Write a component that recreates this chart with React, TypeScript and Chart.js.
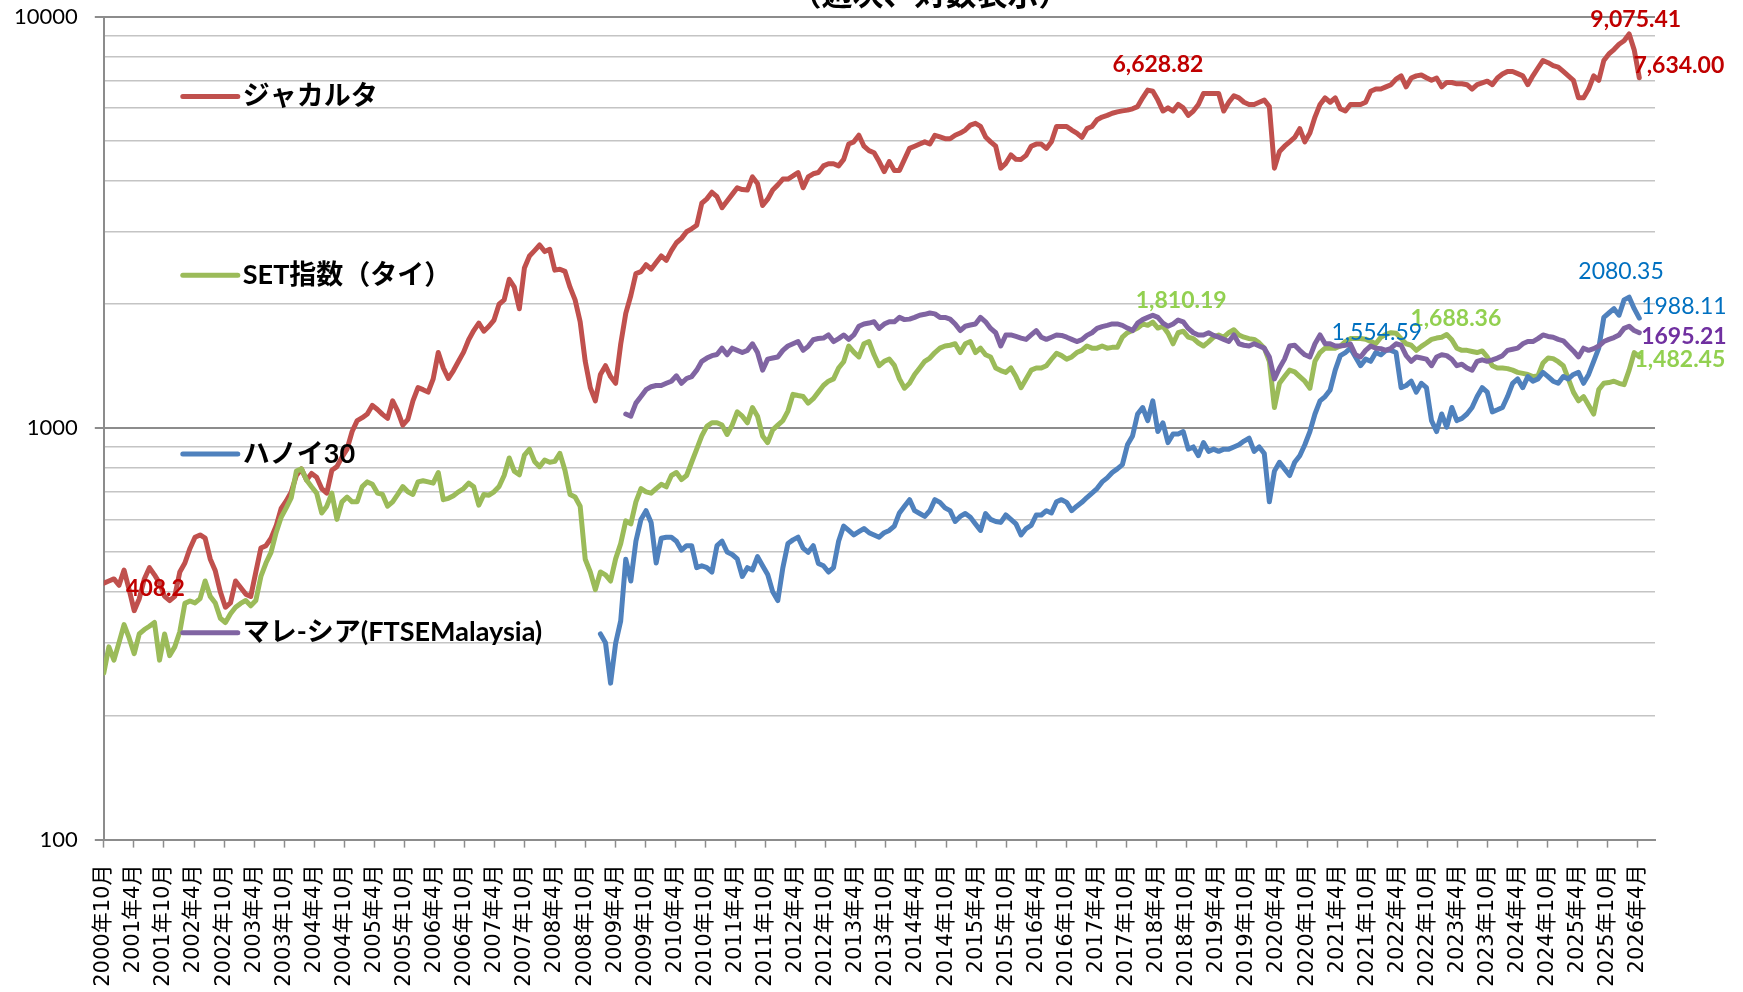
import { useEffect, useRef } from 'react';
import { Chart, registerables } from 'chart.js';

Chart.register(...registerables);

// x tick labels (every 6 months)
const tickLabels = [
  '2000年10月', '2001年4月', '2001年10月', '2002年4月', '2002年10月', '2003年4月', '2003年10月',
  '2004年4月', '2004年10月', '2005年4月', '2005年10月', '2006年4月', '2006年10月', '2007年4月',
  '2007年10月', '2008年4月', '2008年10月', '2009年4月', '2009年10月', '2010年4月', '2010年10月',
  '2011年4月', '2011年10月', '2012年4月', '2012年10月', '2013年4月', '2013年10月', '2014年4月',
  '2014年10月', '2015年4月', '2015年10月', '2016年4月', '2016年10月', '2017年4月', '2017年10月',
  '2018年4月', '2018年10月', '2019年4月', '2019年10月', '2020年4月', '2020年10月', '2021年4月',
  '2021年10月', '2022年4月', '2022年10月', '2023年4月', '2023年10月', '2024年4月', '2024年10月',
  '2025年4月', '2025年10月', '2026年4月',
];

// y ticks
const yGridValues = [100, 200, 300, 400, 500, 600, 700, 800, 900, 1000, 2000, 3000, 4000, 5000, 6000, 7000, 8000, 9000, 10000];
const yLabelValues = [100, 1000, 10000];

// series (roughly monthly samples, sample index 0 = 2000年10月)
const jakarta = [
  420, 425, 430, 415, 452, 405, 360, 385, 430, 458,
  440, 420, 390, 381, 390, 447, 470, 510, 543, 550,
  540, 481, 450, 400, 367, 376, 425, 410, 395, 390,
  447, 511, 518, 540, 578, 638, 665, 700, 767, 796,
  748, 776, 760, 713, 695, 790, 806, 850, 889, 981,
  1043, 1060, 1082, 1136, 1110, 1080, 1056, 1165, 1100, 1017,
  1050, 1165, 1254, 1240, 1223, 1317, 1526, 1400, 1320, 1380,
  1453, 1530, 1640, 1726, 1800, 1720, 1768, 1830, 2000, 2049,
  2300, 2200, 1950, 2450, 2620, 2700, 2786, 2685, 2719, 2420,
  2433, 2404, 2200, 2050, 1813, 1453, 1254, 1165, 1350, 1418,
  1334, 1285, 1600, 1900, 2100, 2374, 2400, 2495, 2433, 2525,
  2620, 2557, 2700, 2821, 2891, 3000, 3050, 3112, 3519, 3606,
  3742, 3650, 3434, 3563, 3698, 3837, 3800, 3790, 4077, 3929,
  3476, 3600, 3790, 3900, 4029, 4029, 4100, 4179, 3837, 4077,
  4150, 4179, 4337, 4390, 4390, 4337, 4498, 4901, 4962, 5148,
  4842, 4725, 4668, 4443, 4200, 4443, 4229, 4229, 4498, 4783,
  4842, 4901, 4962, 4901, 5148, 5100, 5050, 5050, 5148, 5212,
  5300, 5448, 5502, 5408, 5100, 4962, 4842, 4283, 4400, 4611,
  4500, 4498, 4600, 4842, 4900, 4901, 4783, 4962, 5408, 5408,
  5408, 5300, 5212, 5087, 5342, 5408, 5613, 5700, 5753, 5824,
  5867, 5900, 5925, 5969, 6043, 6346, 6629, 6585, 6268, 5896,
  6000, 5896, 6117, 6000, 5753, 5896, 6117, 6503, 6503, 6503,
  6503, 5896, 6192, 6424, 6346, 6192, 6117, 6117, 6192, 6268,
  6043, 4283, 4700, 4842, 4962, 5087, 5342, 4962, 5212, 5700,
  6117, 6346, 6192, 6346, 5969, 5896, 6117, 6117, 6117, 6192,
  6585, 6667, 6667, 6750, 6832, 7050, 7178, 6750, 7090, 7178,
  7213, 7100, 7003, 7090, 6750, 6917, 6917, 6866, 6866, 6832,
  6667, 6832, 6900, 6968, 6832, 7090, 7250, 7356, 7356, 7267,
  7178, 6832, 7178, 7500, 7822, 7726, 7600, 7540, 7356, 7178,
  7003, 6346, 6346, 6667, 7178, 7003, 7822, 8115, 8318, 8568,
  8737, 9075, 8300, 7100,
];

const setThai = [
  254, 294, 273, 301, 333, 309, 283, 316, 324, 330,
  337, 273, 316, 280, 294, 320, 375, 380, 376, 385,
  425, 390, 376, 345, 337, 354, 367, 375, 381, 370,
  381, 436, 470, 499, 557, 607, 640, 678, 786, 796,
  748, 720, 695, 622, 646, 695, 600, 662, 680, 662,
  662, 721, 740, 730, 695, 690, 646, 662, 690, 721,
  700, 690, 740, 745, 740, 735, 780, 670, 675, 685,
  700, 713, 735, 720, 650, 690, 687, 700, 721, 767,
  846, 786, 770, 860, 889, 830, 806, 836, 826, 830,
  868, 790, 690, 680, 646, 480, 447, 405, 447, 440,
  425, 481, 524, 595, 585, 662, 713, 700, 695, 713,
  730, 720, 767, 780, 750, 767, 826, 889, 957, 1010,
  1030, 1030, 1017, 965, 1017, 1095, 1069, 1030, 1122, 1069,
  957, 922, 990, 1017, 1043, 1100, 1208, 1200, 1193, 1150,
  1179, 1223, 1269, 1300, 1317, 1400, 1450, 1583, 1530, 1489,
  1603, 1623, 1507, 1418, 1453, 1471, 1420, 1317, 1250, 1285,
  1350, 1400, 1453, 1480, 1526, 1564, 1583, 1590, 1603, 1526,
  1603, 1623, 1526, 1564, 1507, 1489, 1400, 1380, 1366, 1400,
  1334, 1254, 1317, 1383, 1400, 1400, 1418, 1470, 1520, 1500,
  1471, 1489, 1526, 1545, 1583, 1564, 1564, 1583, 1564, 1571,
  1571, 1663, 1705, 1726, 1750, 1791, 1777, 1810, 1750, 1768,
  1700, 1603, 1705, 1720, 1663, 1650, 1610, 1583, 1620, 1663,
  1684, 1663, 1705, 1734, 1684, 1663, 1650, 1643, 1611, 1564,
  1453, 1122, 1285, 1334, 1383, 1370, 1334, 1300, 1250, 1453,
  1526, 1564, 1564, 1564, 1583, 1623, 1650, 1650, 1651, 1645,
  1625, 1603, 1663, 1690, 1705, 1700, 1650, 1603, 1590, 1545,
  1580, 1610, 1643, 1655, 1663, 1688, 1640, 1564, 1545, 1545,
  1535, 1526, 1540, 1489, 1418, 1400, 1400, 1395, 1383, 1366,
  1358, 1350, 1334, 1340, 1440, 1480, 1475, 1450, 1418, 1317,
  1223, 1165, 1193, 1136, 1082, 1240, 1285, 1290, 1300, 1285,
  1275, 1383, 1526, 1489,
];

const hanoiStart = 98;
const hanoi30 = [
  316, 301,
  240, 300, 340, 480, 425, 531, 600, 630, 590, 470,
  540, 543, 543, 531, 505, 518, 518, 458, 463, 458,
  447, 518, 531, 500, 493, 481, 436, 458, 452, 487,
  463, 441, 400, 381, 458, 524, 535, 543, 511, 499,
  518, 469, 463, 447, 458, 531, 578, 564, 550, 560,
  570, 557, 550, 543, 557, 564, 578, 622, 646, 670,
  630, 620, 610, 630, 670, 660, 640, 630, 593, 610,
  620, 607, 585, 564, 620, 600, 593, 590, 615, 600,
  585, 550, 570, 580, 615, 615, 630, 622, 662, 670,
  660, 630, 646, 660, 678, 695, 713, 740, 757, 780,
  796, 815, 911, 957, 1082, 1122, 1043, 1165, 981, 1030,
  922, 968, 968, 981, 889, 900, 857, 922, 878, 889,
  878, 889, 889, 900, 911, 930, 945, 878, 900, 867,
  662, 786, 826, 796, 767, 826, 857, 911, 981, 1082,
  1165, 1193, 1238, 1383, 1500, 1526, 1564, 1489, 1418, 1471,
  1453, 1526, 1507, 1545, 1545, 1526, 1254, 1269, 1300, 1223,
  1285, 1254, 1043, 981, 1082, 1005, 1122, 1043, 1056, 1082,
  1122, 1193, 1254, 1223, 1095, 1108, 1122, 1193, 1285, 1317,
  1254, 1334, 1300, 1317, 1366, 1334, 1300, 1285, 1334, 1317,
  1350, 1366, 1285, 1350, 1453, 1564, 1858, 1904, 1951, 1881,
  2049, 2080, 1951, 1850,
];

const malaysiaStart = 103;
const malaysia = [
  1082, 1069, 1150, 1193, 1240, 1260, 1269,
  1269, 1285, 1300, 1340, 1285, 1320, 1334, 1383, 1453, 1480,
  1500, 1510, 1564, 1507, 1564, 1545, 1526, 1545, 1603, 1526,
  1383, 1471, 1480, 1489, 1545, 1583, 1603, 1623, 1545, 1580,
  1640, 1651, 1655, 1684, 1623, 1650, 1684, 1643, 1684, 1768,
  1791, 1800, 1813, 1747, 1790, 1813, 1813, 1858, 1835, 1840,
  1858, 1881, 1890, 1904, 1895, 1858, 1858, 1840, 1791, 1726,
  1768, 1780, 1791, 1858, 1813, 1747, 1705, 1583, 1684, 1684,
  1670, 1655, 1643, 1684, 1726, 1663, 1643, 1663, 1684, 1680,
  1663, 1643, 1623, 1640, 1680, 1705, 1747, 1765, 1777, 1791,
  1791, 1777, 1750, 1726, 1800, 1835, 1858, 1881, 1858, 1800,
  1768, 1791, 1830, 1813, 1747, 1705, 1684, 1684, 1705, 1680,
  1663, 1643, 1623, 1684, 1603, 1590, 1583, 1603, 1583, 1564,
  1489, 1317, 1400, 1471, 1583, 1590, 1545, 1507, 1489, 1603,
  1684, 1603, 1603, 1583, 1583, 1590, 1600, 1507, 1489, 1545,
  1583, 1564, 1560, 1545, 1564, 1603, 1590, 1500, 1453, 1489,
  1480, 1471, 1418, 1489, 1507, 1500, 1470, 1418, 1430, 1400,
  1383, 1453, 1465, 1453, 1465, 1480, 1500, 1545, 1555, 1564,
  1603, 1623, 1623, 1650, 1684, 1670, 1663, 1643, 1630, 1583,
  1540, 1489, 1564, 1545, 1560, 1583, 1623, 1643, 1660, 1684,
  1747, 1768, 1726, 1705,
];

const seriesNames = ['ジャカルタ', 'SET指数（タイ）', 'ハノイ30', 'マレ-シア(FTSEMalaysia)'];
const seriesColors = ['#C0504D', '#9BBB59', '#4F81BD', '#8064A2'];

// data labels: text, anchor (sample index, value), color, bold
const dataLabels = [
  { text: '408.2', x: 10.2, y: 408, color: '#C00000', bold: true },
  { text: '6,628.82', x: 208.0, y: 7647, color: '#C00000', bold: true },
  { text: '9,075.41', x: 302.3, y: 9811, color: '#C00000', bold: true },
  { text: '7,634.00', x: 310.8, y: 7586, color: '#C00000', bold: true },
  { text: '2080.35', x: 299.4, y: 2395, color: '#0070C0', bold: false },
  { text: '1988.11', x: 311.8, y: 1970, color: '#0070C0', bold: false },
  { text: '1695.21', x: 311.8, y: 1665, color: '#7030A0', bold: true },
  { text: '1,482.45', x: 311.0, y: 1464, color: '#92D050', bold: true },
  { text: '1,688.36', x: 266.8, y: 1842, color: '#92D050', bold: true },
  { text: '1,554.59', x: 251.2, y: 1703, color: '#0070C0', bold: false },
  { text: '1,810.19', x: 212.6, y: 2037, color: '#92D050', bold: true },
];

const titleText = '（週次、対数表示）';

const LABEL_STEP = 5.936; // samples per 6-month tick
const X_MAX = 306.1;

function toPoints(values: number[], start: number) {
  return values.map((v, i) => ({ x: start + i, y: v }));
}

const labelPlugin = {
  id: 'dataLabelsCustom',
  afterDatasetsDraw(chart: any) {
    const { ctx, scales } = chart;
    ctx.save();
    ctx.textAlign = 'center';
    ctx.textBaseline = 'middle';
    dataLabels.forEach((l) => {
      const px = scales.x.getPixelForValue(l.x);
      const py = scales.y.getPixelForValue(l.y);
      ctx.font = `${l.bold ? 'bold ' : ''}23px Lato, 'Noto Sans CJK JP'`;
      ctx.fillStyle = l.color;
      ctx.fillText(l.text, px, py);
    });
    ctx.restore();
  },
};

const legendPlugin = {
  id: 'legendCustom',
  afterDraw(chart: any) {
    const { ctx, chartArea } = chart;
    ctx.save();
    ctx.font = "bold 27px Lato, 'Noto Sans CJK JP'";
    ctx.textBaseline = 'middle';
    ctx.textAlign = 'left';
    seriesNames.forEach((name, k) => {
      const y = chartArea.top + 80 + k * 178.7;
      const x0 = chartArea.left + 79;
      ctx.strokeStyle = seriesColors[k];
      ctx.lineWidth = 5;
      ctx.lineCap = 'round';
      ctx.beginPath();
      ctx.moveTo(x0, y);
      ctx.lineTo(x0 + 55, y);
      ctx.stroke();
      ctx.fillStyle = '#000';
      ctx.fillText(name, x0 + 60, y);
    });
    // title (mostly above the visible area)
    ctx.font = "bold 31px 'Noto Sans CJK JP'";
    ctx.textAlign = 'center';
    ctx.textBaseline = 'alphabetic';
    ctx.fillText(titleText, 930, 5);
    ctx.restore();
  },
};

export default function App() {
  const canvasRef = useRef<HTMLCanvasElement | null>(null);

  useEffect(() => {
    if (!canvasRef.current) return;
    const allSeries = [
      toPoints(jakarta, 0),
      toPoints(setThai, 0),
      toPoints(hanoi30, hanoiStart),
      toPoints(malaysia, malaysiaStart),
    ];
    const chart = new Chart(canvasRef.current, {
      type: 'line',
      data: {
        datasets: allSeries.map((pts, k) => ({
          label: seriesNames[k],
          data: pts,
          borderColor: seriesColors[k],
          backgroundColor: seriesColors[k],
          borderWidth: 5,
          pointRadius: 0,
          tension: 0,
          fill: false,
          borderJoinStyle: 'round' as const,
          borderCapStyle: 'round' as const,
          order: 3 - k,
        })),
      },
      options: {
        responsive: false,
        animation: false,
        devicePixelRatio: 1,
        events: [],
        layout: { padding: { left: 0, top: 16.6, right: 88, bottom: 0 } },
        plugins: {
          legend: { display: false },
          tooltip: { enabled: false },
          title: { display: false },
        },
        scales: {
          x: {
            type: 'linear',
            min: 0,
            max: X_MAX,
            afterBuildTicks: (s: any) => {
              s.ticks = tickLabels.map((_, k) => ({ value: k * LABEL_STEP }));
            },
            afterFit: (s: any) => {
              s.height = 992 - 839.6;
              s.paddingLeft = 0;
              s.paddingRight = 0;
            },
            ticks: {
              autoSkip: false,
              maxRotation: 90,
              minRotation: 90,
              padding: 17,
              color: '#000',
              font: { family: "'DejaVu Sans', 'Noto Sans CJK JP'", size: 21 },
              callback: (_v: any, i: number) => tickLabels[i],
            },
            grid: {
              drawOnChartArea: false,
              drawTicks: true,
              tickLength: 8,
              tickColor: '#8c8c8c',
              tickWidth: 1.5,
            },
            border: { display: true, color: '#8c8c8c', width: 2 },
          },
          y: {
            type: 'logarithmic',
            min: 100,
            max: 10000,
            afterBuildTicks: (s: any) => {
              s.ticks = yGridValues.map((v) => ({ value: v }));
            },
            afterFit: (s: any) => {
              s.width = 103.8;
              s.paddingTop = 0;
              s.paddingBottom = 0;
            },
            ticks: {
              autoSkip: false,
              padding: 17,
              color: '#000',
              font: { family: 'Lato', size: 22 },
              callback: (v: any) => (yLabelValues.includes(Number(v)) ? String(v) : ''),
            },
            grid: {
              color: (c: any) => (c.tick && yLabelValues.includes(c.tick.value) ? '#8c8c8c' : '#c4c4c4'),
              lineWidth: (c: any) => (c.tick && yLabelValues.includes(c.tick.value) ? 2 : 1.6),
              tickLength: 9,
              tickColor: (c: any) => (c.tick && yLabelValues.includes(c.tick.value) ? '#8c8c8c' : 'rgba(0,0,0,0)'),
            },
            border: { display: true, color: '#8c8c8c', width: 2 },
          },
        },
      },
      plugins: [labelPlugin, legendPlugin],
    } as any);
    return () => chart.destroy();
  }, []);

  return (
    <div style={{ position: 'fixed', left: 0, top: 0, width: 1743, height: 992, background: '#fff' }}>
      <canvas ref={canvasRef} width={1743} height={992} style={{ display: 'block' }} />
    </div>
  );
}
